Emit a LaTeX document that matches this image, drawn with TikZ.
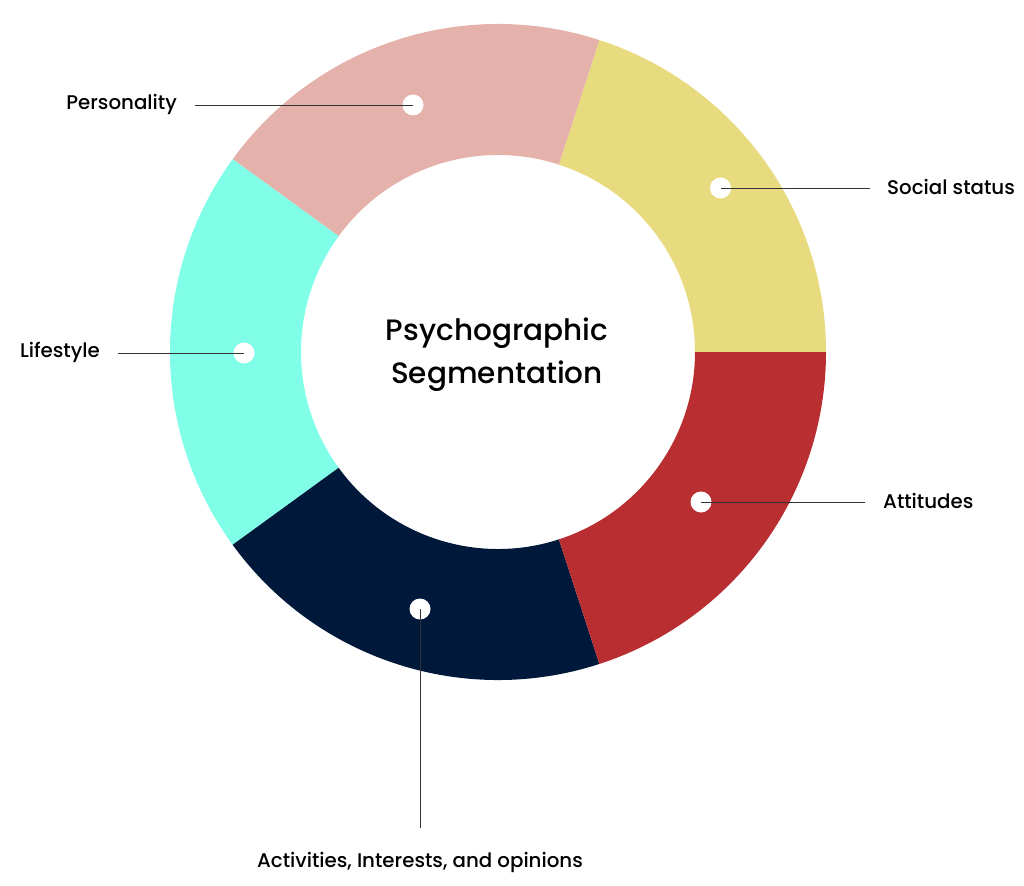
\documentclass[tikz,border=0pt]{standalone}
\usepackage{fontspec}
\setmainfont{Poppins}[UprightFont=* Medium,BoldFont=* SemiBold]
\definecolor{segY}{HTML}{E8DA7E}
\definecolor{segP}{HTML}{E4B2AA}
\definecolor{segC}{HTML}{80FEE8}
\definecolor{segN}{HTML}{00183A}
\definecolor{segR}{HTML}{B92E31}
\definecolor{leader}{HTML}{333333}
\begin{document}
\begin{tikzpicture}[x=1pt,y=-1pt,
  dot/.style={circle,fill=white,inner sep=0pt,minimum size=21pt},
  lbl/.style={inner sep=0pt,font=\fontsize{19.8}{23}\selectfont,text=black},
  lead/.style={draw=leader,line width=0.8pt}]
\useasboundingbox[fill=white] (0,0) rectangle (1024,885);
\begin{scope}[shift={(498,352)}]
\fill[segY] (0:328) arc[start angle=0,end angle=-72,radius=328] -- (-72:197) arc[start angle=-72,end angle=0,radius=197] -- cycle;
\fill[segP] (-72:328) arc[start angle=-72,end angle=-144,radius=328] -- (-144:197) arc[start angle=-144,end angle=-72,radius=197] -- cycle;
\fill[segC] (-144:328) arc[start angle=-144,end angle=-216,radius=328] -- (-216:197) arc[start angle=-216,end angle=-144,radius=197] -- cycle;
\fill[segN] (-216:328) arc[start angle=-216,end angle=-288,radius=328] -- (-288:197) arc[start angle=-288,end angle=-216,radius=197] -- cycle;
\fill[segR] (-288:328) arc[start angle=-288,end angle=-360,radius=328] -- (-360:197) arc[start angle=-360,end angle=-288,radius=197] -- cycle;
\end{scope}
% dots
\node[dot] (dP) at (413,105) {};
\node[dot] (dS) at (720.5,188) {};
\node[dot] (dL) at (244,353) {};
\node[dot] (dA) at (701,502) {};
\node[dot] (dI) at (420,609) {};
% free ends
\coordinate (eP) at (195,105);
\coordinate (eS) at (870,188);
\coordinate (eL) at (118,353);
\coordinate (eA) at (865,502);
\coordinate (eI) at (420,828);
\draw[lead] (eP) -- (dP.center);
\draw[lead] (eS) -- (dS.center);
\draw[lead] (eL) -- (dL.center);
\draw[lead] (eA) -- (dA.center);
\draw[lead] (eI) -- (dI.center);
% labels
\node[lbl,anchor=east] (tP) at (177,104) {Personality};
\node[lbl,anchor=west] (tS) at (887,187) {Social status};
\node[lbl,anchor=east] (tL) at (100,352) {Lifestyle};
\node[lbl,anchor=west] (tA) at (883,501) {Attitudes};
\node[lbl] (tI) at (420,862) {Activities, Interests, and opinions};
\node[inner sep=0pt,align=center,font=\fontsize{29.5}{43}\selectfont] (title) at (497,355) {Psychographic\\Segmentation};
\end{tikzpicture}
\end{document}
